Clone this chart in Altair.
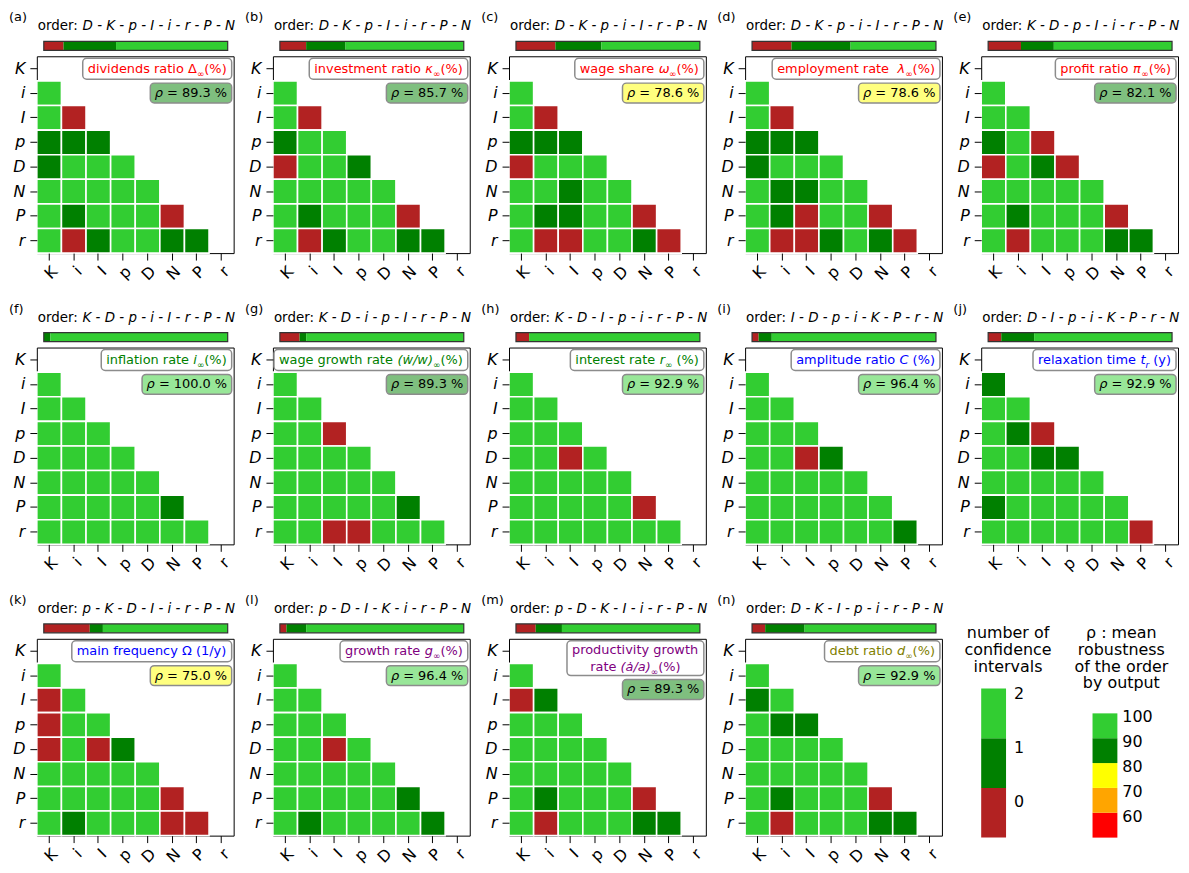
import altair as alt
import pandas as pd

LABELS = ["K", "i", "I", "p", "D", "N", "P", "r"]

TAGS = ["(a)", "(b)", "(c)", "(d)", "(e)", "(f)", "(g)", "(h)", "(i)", "(j)",
        "(k)", "(l)", "(m)", "(n)"]

ORDERS = [
    ["D", "K", "p", "I", "i", "r", "P", "N"],
    ["D", "K", "p", "I", "i", "r", "P", "N"],
    ["D", "K", "p", "i", "I", "r", "P", "N"],
    ["D", "K", "p", "i", "I", "r", "P", "N"],
    ["K", "D", "p", "I", "i", "r", "P", "N"],
    ["K", "D", "p", "i", "I", "r", "P", "N"],
    ["K", "D", "i", "p", "I", "r", "P", "N"],
    ["K", "D", "I", "p", "i", "r", "P", "N"],
    ["I", "D", "p", "i", "K", "P", "r", "N"],
    ["D", "I", "p", "i", "K", "P", "r", "N"],
    ["p", "K", "D", "I", "i", "r", "P", "N"],
    ["p", "D", "I", "K", "i", "r", "P", "N"],
    ["p", "D", "K", "I", "i", "r", "P", "N"],
    ["D", "K", "I", "p", "i", "r", "P", "N"],
]

# each title: list of lines, each line a list of (text, style) with
# style n = normal, i = italic, s = subscript
TITLES = [
    [[("dividends ratio Δ", "n"), ("∞", "s"), ("(%)", "n")]],
    [[("investment ratio ", "n"), ("κ", "i"), ("∞", "s"), ("(%)", "n")]],
    [[("wage share ", "n"), ("ω", "i"), ("∞", "s"), ("(%)", "n")]],
    [[("employment rate  ", "n"), ("λ", "i"), ("∞", "s"), ("(%)", "n")]],
    [[("profit ratio ", "n"), ("π", "i"), ("∞", "s"), ("(%)", "n")]],
    [[("inflation rate ", "n"), ("i", "i"), ("∞", "s"), ("(%)", "n")]],
    [[("wage growth rate ", "n"), ("(ẇ/w)", "i"), ("∞", "s"), ("(%)", "n")]],
    [[("interest rate ", "n"), ("r", "i"), ("∞", "s"), (" (%)", "n")]],
    [[("amplitude ratio ", "n"), ("C", "i"), (" (%)", "n")]],
    [[("relaxation time ", "n"), ("t", "i"), ("r", "s"), (" (y)", "n")]],
    [[("main frequency Ω (1/y)", "n")]],
    [[("growth rate ", "n"), ("g", "i"), ("∞", "s"), ("(%)", "n")]],
    [[("productivity growth", "n")],
     [("rate ", "n"), ("(ȧ/a)", "i"), ("∞", "s"), ("(%)", "n")]],
    [[("debt ratio ", "n"), ("d", "i"), ("∞", "s"), ("(%)", "n")]],
]

TITLE_COLORS = ["#ff0000"] * 5 + ["#008000"] * 3 + ["#0000ff"] * 3 + ["#800080"] * 2 + ["#808000"]

RHOS = [89.3, 85.7, 78.6, 78.6, 82.1, 100.0, 89.3, 92.9, 96.4, 92.9, 75.0, 96.4, 89.3, 92.9]

# lower triangle, rows i, I, p, D, N, P, r ; columns K, i, I, p, D, N, P
# 0 = no confidence interval, 1 = one, 2 = two
CELLS = [
    [[2], [2, 0], [1, 1, 1], [1, 2, 2, 2], [2, 2, 2, 2, 2], [2, 1, 2, 2, 2, 0], [2, 0, 1, 2, 2, 1, 1]],
    [[2], [2, 0], [1, 2, 2], [0, 2, 2, 1], [2, 2, 2, 2, 2], [2, 1, 2, 2, 2, 0], [2, 0, 1, 2, 2, 1, 1]],
    [[2], [2, 0], [1, 1, 1], [0, 2, 2, 2], [2, 2, 1, 2, 2], [2, 1, 1, 2, 2, 0], [2, 0, 0, 2, 2, 1, 0]],
    [[2], [2, 0], [1, 1, 1], [1, 2, 2, 2], [2, 1, 1, 2, 2], [2, 1, 0, 2, 2, 0], [2, 0, 0, 1, 2, 1, 0]],
    [[2], [2, 2], [1, 2, 0], [0, 2, 1, 0], [2, 2, 2, 2, 2], [2, 1, 2, 2, 2, 0], [2, 0, 2, 2, 2, 1, 1]],
    [[2], [2, 2], [2, 2, 2], [2, 2, 2, 2], [2, 2, 2, 2, 2], [2, 2, 2, 2, 2, 1], [2, 2, 2, 2, 2, 2, 2]],
    [[2], [2, 2], [2, 2, 0], [2, 2, 2, 2], [2, 2, 2, 2, 2], [2, 2, 2, 2, 2, 1], [2, 2, 0, 0, 2, 2, 2]],
    [[2], [2, 2], [2, 2, 2], [2, 2, 0, 2], [2, 2, 2, 2, 2], [2, 2, 2, 2, 2, 0], [2, 2, 2, 2, 2, 2, 2]],
    [[2], [2, 2], [2, 2, 2], [2, 2, 0, 1], [2, 2, 2, 2, 2], [2, 2, 2, 2, 2, 2], [2, 2, 2, 2, 2, 2, 1]],
    [[1], [2, 2], [2, 1, 0], [2, 2, 1, 1], [2, 2, 2, 2, 2], [1, 2, 2, 2, 2, 2], [2, 2, 2, 2, 2, 2, 0]],
    [[2], [0, 2], [0, 2, 2], [0, 2, 0, 1], [2, 2, 2, 2, 2], [2, 2, 2, 2, 2, 0], [2, 1, 2, 2, 2, 0, 0]],
    [[2], [2, 2], [2, 2, 2], [2, 2, 0, 2], [2, 2, 2, 2, 2], [2, 2, 2, 2, 2, 1], [2, 1, 2, 2, 2, 2, 1]],
    [[2], [0, 1], [2, 2, 2], [2, 2, 2, 2], [2, 2, 2, 2, 2], [2, 1, 2, 2, 2, 0], [2, 0, 2, 2, 2, 1, 1]],
    [[2], [1, 2], [2, 1, 1], [2, 2, 2, 2], [2, 2, 2, 2, 2], [2, 1, 2, 2, 2, 0], [2, 0, 2, 2, 2, 1, 1]],
]

CELL_VALUES = [0, 1, 2]
CELL_COLORS = ["#b22222", "#008000", "#32cd32"]
RHO_EDGES = [50, 60, 70, 80, 90, 100]
RHO_TICKS = [60, 70, 80, 90, 100]
RHO_COLORS = ["#ff0000", "#ffa500", "#ffff00", "#008000", "#32cd32"]

LEGEND1_TITLE = "number of\nconfidence\nintervals"
LEGEND2_TITLE = "ρ : mean\nrobustness\nof the order\nby output"

FONT = "DejaVu Sans"
W = 198
H = 198
LH = 17      # line height for multi-line texts
FS = 13      # annotation font size
FS_SUB = 9   # subscript font size

# approximate DejaVu Sans advance widths (em) used to lay out the annotation texts
CW = {" ": .318, "%": .95, "(": .39, ")": .39, "-": .361, ".": .318, "/": .337,
      ":": .337, "=": .838, "∞": .833, "Δ": .684, "κ": .6, "ω": .8, "λ": .6,
      "π": .64, "Ω": .765, "ρ": .635, "ẇ": .818, "ȧ": .613,
      "C": .698, "a": .613, "b": .635, "c": .55, "d": .635, "e": .615, "f": .352,
      "g": .635, "h": .634, "i": .278, "j": .278, "k": .579, "l": .278, "m": .974,
      "n": .634, "o": .612, "p": .635, "q": .635, "r": .411, "s": .521, "t": .392,
      "u": .634, "v": .592, "w": .818, "x": .592, "y": .592, "z": .525}


def text_w(s, size):
    return sum(CW.get(ch, .636) for ch in s) * size


def seg_size(style):
    return FS_SUB if style == "s" else FS


def line_w(line):
    return sum(text_w(t, seg_size(st)) for t, st in line)


def rho_color(r):
    for k in range(len(RHO_COLORS)):
        if RHO_EDGES[k] <= r < RHO_EDGES[k + 1]:
            return RHO_COLORS[k]
    return RHO_COLORS[-1]


one = pd.DataFrame({"d": [0]})


def seg_marks(lines, cx, y0, color):
    marks = []
    for j, line in enumerate(lines):
        x = cx - line_w(line) / 2
        y = y0 + j * LH
        for t, st in line:
            size = seg_size(st)
            body = t.lstrip(" ")
            lead = text_w(t[:len(t) - len(body)], size)
            props = dict(align="left", baseline="middle", fontSize=size,
                         color=color, text=body)
            if st in ("i", "s"):
                props["fontStyle"] = "italic"
            if st == "s":
                props["dy"] = 5
            marks.append(alt.Chart(one).mark_text(**props).encode(
                x=alt.value(x + lead), y=alt.value(y)))
            x += text_w(t, size)
    return marks


def make_panel(k):
    recs = []
    for ri, vals in enumerate(CELLS[k]):
        for ci, v in enumerate(vals):
            recs.append({"row": LABELS[ri + 1], "col": LABELS[ci], "v": v})
    heat_df = pd.DataFrame(recs)
    n = len(recs)
    segs = []
    acc = 0
    for c in CELL_VALUES:
        cnt = sum(1 for r in recs if r["v"] == c)
        segs.append({"a": acc / n, "b": (acc + cnt) / n, "v": c})
        acc += cnt
    seg_df = pd.DataFrame(segs)
    cscale = alt.Scale(domain=CELL_VALUES, range=CELL_COLORS)

    heat = alt.Chart(heat_df).mark_rect(stroke="white", strokeWidth=1.6).encode(
        x=alt.X("col:N", scale=alt.Scale(domain=LABELS, paddingInner=0, paddingOuter=0),
                axis=alt.Axis(title=None, labelAngle=315, labelFontSize=16, labelPadding=3)),
        y=alt.Y("row:N", scale=alt.Scale(domain=LABELS, paddingInner=0, paddingOuter=0),
                axis=alt.Axis(title=None, labelFontSize=16, labelFontStyle="italic", labelPadding=5)),
        color=alt.Color("v:N", scale=cscale, legend=None),
    )

    bar = alt.Chart(seg_df).mark_rect().encode(
        x=alt.X("a:Q", scale=alt.Scale(domain=[0, 1], range=[7, W - 6]), axis=None),
        x2="b:Q",
        y=alt.value(-15), y2=alt.value(-6),
        color=alt.Color("v:N", scale=cscale, legend=None),
    )
    bar_frame = alt.Chart(one).mark_rect(fillOpacity=0, stroke="#333333", strokeWidth=1.2).encode(
        x=alt.value(7), x2=alt.value(W - 6), y=alt.value(-15), y2=alt.value(-6))

    order_lbl = alt.Chart(one).mark_text(align="left", baseline="middle", fontSize=13.5,
                                         color="black", text="order:").encode(
        x=alt.value(1), y=alt.value(-30))
    order_seq = alt.Chart(one).mark_text(align="left", baseline="middle", fontSize=13.5,
                                         fontStyle="italic", color="black",
                                         text=" - ".join(ORDERS[k])).encode(
        x=alt.value(46), y=alt.value(-30))
    tag = alt.Chart(one).mark_text(align="left", baseline="middle", fontSize=13,
                                   color="black", text=TAGS[k]).encode(
        x=alt.value(-28), y=alt.value(-39))

    lines = TITLES[k]
    nlines = len(lines)
    tw = max(line_w(l) for l in lines) + 10
    th = 21 if nlines == 1 else 35
    tbox = alt.Chart(one).mark_rect(fill="white", stroke="#8c8c8c", strokeWidth=1.5,
                                    cornerRadius=4).encode(
        x=alt.value(W - 2 - tw), x2=alt.value(W - 2), y=alt.value(2), y2=alt.value(2 + th))
    tmarks = seg_marks(lines, W - 2 - tw / 2, 2 + th / 2 - (nlines - 1) * LH / 2, TITLE_COLORS[k])

    rline = [("ρ", "i"), (" = %.1f %%" % RHOS[k], "n")]
    rw = line_w(rline) + 9
    ry = 2 + th + 4
    rbox = alt.Chart(one).mark_rect(fill=rho_color(RHOS[k]), fillOpacity=0.5, stroke="#8c8c8c",
                                    strokeWidth=1.5, cornerRadius=4).encode(
        x=alt.value(W - 2 - rw), x2=alt.value(W - 2), y=alt.value(ry), y2=alt.value(ry + 20))
    rmarks = seg_marks([rline], W - 2 - rw / 2, ry + 10, "black")

    return alt.layer(heat, bar, bar_frame, order_lbl, order_seq, tag, tbox, *tmarks, rbox, *rmarks
                     ).resolve_scale(x="independent", y="independent").properties(width=W, height=H)


def make_legend():
    lo, hi = -0.65, 2.1
    step = (hi - lo) / 3
    l1 = pd.DataFrame({"y0": [lo + step * i for i in range(3)],
                       "y1": [lo + step * (i + 1) for i in range(3)],
                       "c": CELL_COLORS, "t": [str(v) for v in CELL_VALUES],
                       "pos": CELL_VALUES})
    s1 = alt.Scale(domain=[lo, hi], range=[200, 50])
    r1 = alt.Chart(l1).mark_rect().encode(
        x=alt.value(0), x2=alt.value(25),
        y=alt.Y("y0:Q", scale=s1, axis=None), y2="y1:Q",
        color=alt.Color("c:N", scale=None))
    t1 = alt.Chart(l1).mark_text(align="left", baseline="middle", fontSize=16, color="black").encode(
        x=alt.value(33), y=alt.Y("pos:Q", scale=s1, axis=None), text="t:N")
    h1 = alt.Chart(one).mark_text(align="center", baseline="middle", fontSize=16, lineBreak="\n",
                                  lineHeight=LH, color="black", text=LEGEND1_TITLE).encode(
        x=alt.value(27), y=alt.value(-6))

    l2 = pd.DataFrame({"y0": RHO_EDGES[:-1], "y1": RHO_EDGES[1:], "c": RHO_COLORS,
                       "pos": RHO_TICKS, "t": [str(v) for v in RHO_TICKS]})
    s2 = alt.Scale(domain=[RHO_EDGES[0], RHO_EDGES[-1]], range=[200, 75])
    r2 = alt.Chart(l2).mark_rect().encode(
        x=alt.value(112), x2=alt.value(137),
        y=alt.Y("y0:Q", scale=s2, axis=None), y2="y1:Q",
        color=alt.Color("c:N", scale=None))
    t2 = alt.Chart(l2).mark_text(align="left", baseline="middle", fontSize=16, color="black", dy=4).encode(
        x=alt.value(142), y=alt.Y("pos:Q", scale=s2, axis=None), text="t:N")
    h2 = alt.Chart(one).mark_text(align="center", baseline="middle", fontSize=16, lineBreak="\n",
                                  lineHeight=LH, color="black", text=LEGEND2_TITLE).encode(
        x=alt.value(141), y=alt.value(-6))
    return alt.layer(r1, t1, h1, r2, t2, h2).resolve_scale(y="independent").properties(
        width=W, height=H, view=alt.ViewBackground(stroke="transparent"))


panels = [make_panel(k) for k in range(14)] + [make_legend()]

chart = alt.concat(*panels, columns=5, spacing={"row": 95, "column": 39.5},
                   bounds="flush").properties(padding=0).configure(
    font=FONT
).configure_view(
    stroke="black", strokeWidth=1
).configure_axis(
    domain=False, grid=False, tickColor="black", tickSize=7, tickWidth=1,
    labelColor="black", labelFont=FONT
).configure_text(font=FONT)

chart.save("out.html", embed_options={"renderer": "svg", "actions": False})
